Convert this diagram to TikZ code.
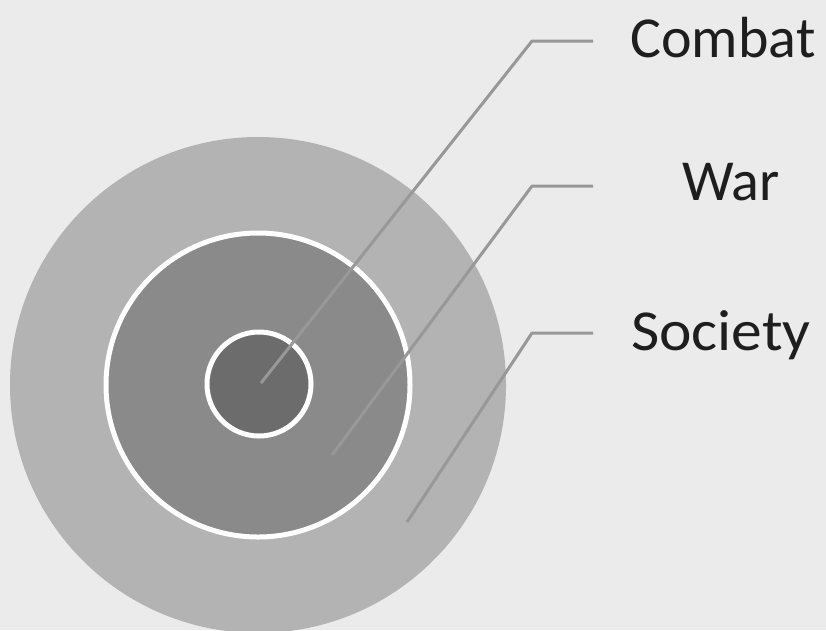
\documentclass[tikz,border=0pt]{standalone}
\usepackage{fontspec}
\setmainfont{Carlito}
\usepackage{xcolor}
\usepackage{tikz}
\usetikzlibrary{positioning, calc}

\definecolor{paper}{HTML}{EBEBEB}
\definecolor{ringout}{HTML}{B3B3B3}
\definecolor{ringmid}{HTML}{8A8A8A}
\definecolor{ringin}{HTML}{6C6C6C}
\definecolor{leader}{HTML}{989898}
\definecolor{inkgray}{HTML}{1E1E1E}

\begin{document}
\begin{tikzpicture}[
		x=1pt, y=-1pt,
		ring/.style={circle, inner sep=0pt, draw=white, line width=5pt},
		lead/.style={draw=leader, line width=3pt, line join=round},
		lab/.style={anchor=base, text=inkgray, font=\fontsize{58}{66}\selectfont}
		]
		
		% Canvas
		\fill[paper] (0,0) rectangle (826,630);
		\useasboundingbox (0,0) rectangle (826,630);
		
		% Rings
		\node[ring, draw=none, fill=ringout, minimum size=496pt] (society) at (258,385) {};
		\node[ring, fill=ringmid, minimum size=304pt] (war) at (258,385) {};
		\node[ring, fill=ringin, minimum size=104pt] (combat) at (259,384) {};
		
		% Knees of the leader lines
		\coordinate (kc) at (532,41);
		\coordinate (kw) at (532,186);
		\coordinate (ks) at (532,333);
		\coordinate (ec) at (593,41);
		\coordinate (ew) at (593,186);
		\coordinate (es) at (593,333);
		
		% Leader lines
		\draw[lead] ($(combat.center)+(2,-1)$) -- (kc) -- (ec);
		\draw[lead] ($(war.center)+(74,70)$) -- (kw) -- (ew);
		\draw[lead] ($(society.center)+(149,137)$) -- (ks) -- (es);
		
		% Labels
		\node[lab] (tc) at (723,57) {Combat};
		\node[lab] (tw) at (731,200) {War};
		\node[lab, xscale=1.06] (ts) at (721,350) {Society};
		
	\end{tikzpicture}
\end{document}
